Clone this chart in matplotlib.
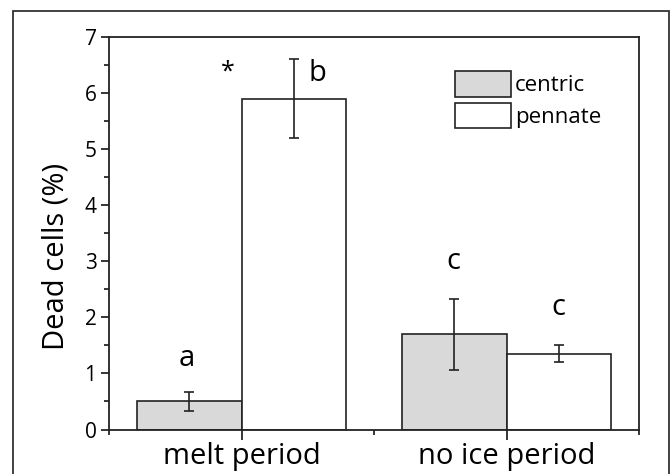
import matplotlib
matplotlib.use('Agg')
import matplotlib.pyplot as plt
from matplotlib.patches import Rectangle, Patch
import numpy as np

plt.rcParams['font.family'] = ['Open Sans', 'DejaVu Sans']

periods = ['melt period', 'no ice period']
centric = [0.5, 1.7]
centric_err = [0.17, 0.63]
pennate = [5.9, 1.35]
pennate_err = [0.7, 0.155]

# significance letters: (x, y, text)
letters = [(0.59, 1.27, 'a'), (1.57, 6.35, 'b'), (2.6, 3.0, 'c'), (3.39, 2.17, 'c')]
star = (0.9, 6.37, '*')

fig = plt.figure(figsize=(6.72, 4.74), dpi=100)
ax = fig.add_axes([109 / 672, 1 - 429.5 / 474, (639 - 109) / 672, (429.5 - 37) / 474])

x = np.array([1, 3])
w = 0.79
edge = '#222222'
ax.bar(x - w / 2, centric, w, color='#d9d9d9', edgecolor=edge, linewidth=1.2, zorder=2)
ax.bar(x + w / 2, pennate, w, color='white', edgecolor=edge, linewidth=1.2, zorder=2)
ax.errorbar(x - w / 2, centric, yerr=centric_err, fmt='none', ecolor=edge,
            elinewidth=1.2, capsize=3.5, capthick=1.2, zorder=3)
ax.errorbar(x + w / 2, pennate, yerr=pennate_err, fmt='none', ecolor=edge,
            elinewidth=1.2, capsize=3.5, capthick=1.2, zorder=3)

for lx, ly, t in letters:
    ax.text(lx, ly, t, ha='center', va='center', fontsize=21)
ax.text(star[0], star[1], star[2], ha='center', va='center', fontsize=18)

ax.set_xlim(0, 4)
ax.set_ylim(0, 7)
ax.set_xticks(x)
ax.set_xticklabels(periods, fontsize=21)
ax.set_xticks([0, 2, 4], minor=True)
ax.set_yticks(range(8))
ax.set_yticks(np.arange(0.5, 7, 1), minor=True)
ax.tick_params(axis='y', which='major', length=6, width=1.1, labelsize=15, pad=3, direction='out')
ax.tick_params(axis='y', which='minor', length=3.5, width=1.1, direction='out')
ax.tick_params(axis='x', which='major', length=7, width=1.1, pad=2, direction='out')
ax.tick_params(axis='x', which='minor', length=3.5, width=1.1, direction='out')
for s in ax.spines.values():
    s.set_linewidth(1.3)
    s.set_color(edge)
ax.set_ylabel('Dead cells (%)', fontsize=21)
ax.yaxis.set_label_coords(-0.073, 0.44)

handles = [Patch(facecolor='#d9d9d9', edgecolor=edge, linewidth=1.2, label='centric'),
           Patch(facecolor='white', edgecolor=edge, linewidth=1.2, label='pennate')]
ax.legend(handles=handles, loc='upper left', bbox_to_anchor=(0.653, 0.913), frameon=False,
          fontsize=16, handlelength=2.5, handleheight=1.38, handletextpad=0.2,
          labelspacing=0.28, borderaxespad=0, borderpad=0)

# outer frame around the figure
fig.patches.append(Rectangle((13 / 672, -0.1), (669 - 13) / 672, 1.1 - 11 / 474,
                             transform=fig.transFigure, fill=False, edgecolor=edge,
                             linewidth=1.2))

fig.savefig('out.png', dpi=100)
